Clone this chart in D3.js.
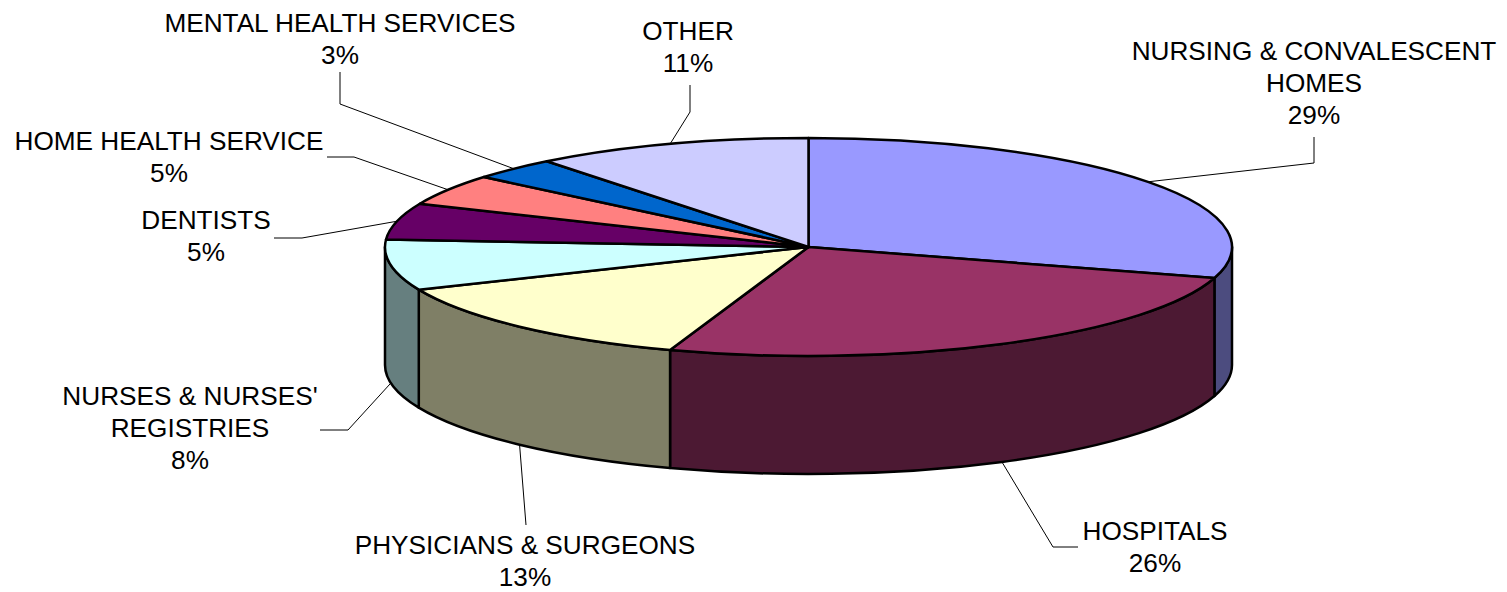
<!DOCTYPE html>
<html>
<head>
<meta charset="utf-8">
<script src="https://cdn.jsdelivr.net/npm/d3@7"></script>
<style>
  html, body { margin: 0; padding: 0; background: #fff; overflow: hidden; }
  text { font-family: "Liberation Sans", Arial, sans-serif; font-size: 26.2px; fill: #000; }
</style>
</head>
<body>
<svg id="chart" width="1507" height="592"></svg>
<script>
const categories = [
    ['NURSING & CONVALESCENT', 'HOMES'],
    ['HOSPITALS'],
    ['PHYSICIANS & SURGEONS'],
    ["NURSES & NURSES'", 'REGISTRIES'],
    ['DENTISTS'],
    ['HOME HEALTH SERVICE'],
    ['MENTAL HEALTH SERVICES'],
    ['OTHER']
];
// shares measured off the slice edges, percents as printed on the labels
const shares = [29.6, 25.7, 13.3, 7.5, 5.4, 4.6, 3.3, 10.6];
const percents = ['29%', '26%', '13%', '8%', '5%', '5%', '3%', '11%'];
const topColors = ['#9999FF', '#993366', '#FFFFCC', '#CCFFFF', '#660066', '#FF8080', '#0066CC', '#CCCCFF'];
const sideColors = ['#4C4C7F', '#4C1933', '#7F7F66', '#667F7F', '#330033', '#7F4040', '#003366', '#66667F'];

const CX = 808.5, CY = 247, RX = 423.5, RY = 109, DEPTH = 118;

// label centre + first baseline, then the leader's bends (start comes from the slice)
const labelLayout = [
    { x: 1314, y: 60, bends: [[1314, 163], [1314, 137]] },
    { x: 1155, y: 540, bends: [[1053, 547], [1078, 547]] },
    { x: 525, y: 554, bends: [[526, 525]] },
    { x: 190, y: 405, bends: [[348, 430], [320, 430]] },
    { x: 206, y: 229, bends: [[302, 238], [274, 238]] },
    { x: 169, y: 150, bends: [[354, 157], [327, 157]] },
    { x: 340, y: 32, bends: [[340, 104], [340, 72]] },
    { x: 688, y: 40, bends: [[690, 112], [690, 85]] }
];
const LINE_HEIGHT = 32;

const svg = d3.select('#chart');

const pie = d3.pie().sort(null).value(d => d);
const slices = pie(shares);

const rimPoint = (a, dy = 0) => [CX + RX * Math.sin(a), CY - RY * Math.cos(a) + dy];

function wallPath(a0, a1) {
    const [x0, y0] = rimPoint(a0);
    const [x1, y1] = rimPoint(a1);
    return `M${x0},${y0}A${RX},${RY} 0 0 1 ${x1},${y1}` +
        `L${x1},${y1 + DEPTH}A${RX},${RY} 0 0 0 ${x0},${y0 + DEPTH}Z`;
}

// Side walls, only the front half of the rim shows
const walls = svg.append('g');
slices.forEach((s, i) => {
    const a0 = Math.max(s.startAngle, Math.PI / 2);
    const a1 = Math.min(s.endAngle, Math.PI * 1.5);
    if (a1 <= a0) return;
    walls.append('path')
        .attr('d', wallPath(a0, a1))
        .attr('fill', sideColors[i])
        .attr('stroke', '#000').attr('stroke-width', 2.5).attr('stroke-linejoin', 'round');
});

// Top face, a flat pie squashed into an ellipse
const arc = d3.arc().innerRadius(0).outerRadius(RX);
svg.append('g')
    .attr('transform', `translate(${CX},${CY}) scale(1,${RY / RX})`)
    .selectAll('path')
    .data(slices)
    .join('path')
    .attr('d', arc)
    .attr('fill', (d, i) => topColors[i])
    .attr('stroke', '#000').attr('stroke-width', 2.5).attr('stroke-linejoin', 'round')
    .attr('vector-effect', 'non-scaling-stroke');

// Leaders
const leader = d3.line();
slices.forEach((s, i) => {
    const mid = (s.startAngle + s.endAngle) / 2;
    const onFront = mid > Math.PI / 2 && mid < Math.PI * 1.5;
    svg.append('path')
        .attr('d', leader([rimPoint(mid, onFront ? DEPTH : 0), ...labelLayout[i].bends]))
        .attr('fill', 'none')
        .attr('stroke', '#000').attr('stroke-width', 1);
});

// Labels
categories.forEach((lines, i) => {
    const t = svg.append('text').attr('text-anchor', 'middle');
    [...lines, percents[i]].forEach((line, j) => {
        t.append('tspan')
            .attr('x', labelLayout[i].x)
            .attr('y', labelLayout[i].y + j * LINE_HEIGHT)
            .text(line);
    });
});
</script>
</body>
</html>
